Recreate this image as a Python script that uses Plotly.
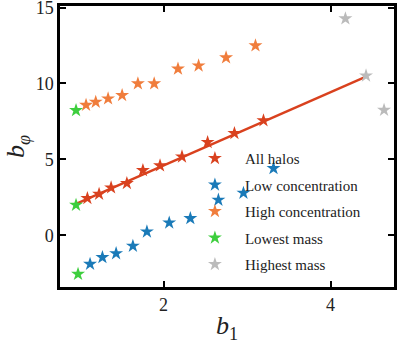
import plotly.graph_objects as go

# b1 / b_phi per mass bin (middle bins)
all_b1 = [1.088, 1.228, 1.372, 1.561, 1.753, 1.958, 2.221, 2.528, 2.849, 3.197]
all_bphi = [2.44, 2.72, 3.14, 3.43, 4.28, 4.59, 5.18, 6.13, 6.72, 7.56]

low_b1 = [1.120, 1.268, 1.432, 1.633, 1.801, 2.068, 2.321, 2.657, 2.957, 3.317]
low_bphi = [-1.89, -1.45, -1.19, -0.70, 0.24, 0.83, 1.12, 2.33, 2.79, 4.41]

high_b1 = [1.072, 1.188, 1.336, 1.504, 1.693, 1.888, 2.173, 2.420, 2.749, 3.101]
high_bphi = [8.58, 8.78, 9.00, 9.22, 9.99, 9.99, 10.96, 11.17, 11.70, 12.49]

# extreme mass bins (all halos, low conc, high conc)
lowest_b1 = [0.952, 0.976, 0.952]
lowest_bphi = [2.00, -2.55, 8.23]
highest_b1 = [4.425, 4.641, 4.178]
highest_bphi = [10.51, 8.25, 14.27]

# linear fit through all halos
fit_b1 = [0.952, 4.425]
fit_bphi = [2.07, 10.45]

RED = "#d9411e"
BLUE = "#1a7ab8"
ORANGE = "#f07d3c"
GREEN = "#3dce3d"
GRAY = "#bbbbbb"

FONT = "Liberation Serif"

fig = go.Figure()

# Fit line below the markers
fig.add_trace(go.Scatter(
    x=fit_b1, y=fit_bphi, mode="lines",
    line=dict(color=RED, width=2.4), showlegend=False, hoverinfo="skip",
))

series = [
    ("All halos", all_b1, all_bphi, RED),
    ("Low concentration", low_b1, low_bphi, BLUE),
    ("High concentration", high_b1, high_bphi, ORANGE),
    ("Lowest mass", lowest_b1, lowest_bphi, GREEN),
    ("Highest mass", highest_b1, highest_bphi, GRAY),
]
for name, xs, ys, color in series:
    fig.add_trace(go.Scatter(
        x=xs, y=ys, mode="markers", name=name, legendgroup=name,
        marker=dict(symbol="star", size=10.5, color=color, line=dict(width=0)),
    ))

axis_common = dict(
    showgrid=False, zeroline=False, automargin=False,
    showline=True, linecolor="black", linewidth=2.5, mirror="ticks",
    ticks="inside", ticklen=6, tickwidth=1.5, tickcolor="black",
    ticklabeloverflow="allow",
    tickfont=dict(family=FONT, size=18, color="#222"),
)

fig.update_xaxes(
    range=[0.76, 4.76], tickvals=[2, 4], **axis_common,
    title=dict(text="<i>b</i><sub>1</sub>", font=dict(family=FONT, size=26, color="#222"), standoff=2),
)
fig.update_yaxes(
    range=[-3.4, 15.1], tickvals=[0, 5, 10, 15], **axis_common,
    title=dict(text="<i>b</i><sub><i>φ</i></sub>", font=dict(family=FONT, size=26, color="#222"), standoff=4),
)

fig.update_layout(
    width=399, height=344,
    margin=dict(l=60, r=5, t=6, b=57),
    plot_bgcolor="white", paper_bgcolor="white",
    font=dict(family=FONT, color="#222"),
    legend=dict(
        x=0.374, y=0.516, xanchor="left", yanchor="top",
        bgcolor="rgba(0,0,0,0)", borderwidth=0,
        font=dict(family=FONT, size=15, color="#222"),
        tracegroupgap=4, itemwidth=50,
    ),
)

# drop the default page margin so the figure sits at the window corner
fig.write_html(
    "out.html",
    config={"displayModeBar": False},
    post_script="document.body.style.margin='0';",
)
